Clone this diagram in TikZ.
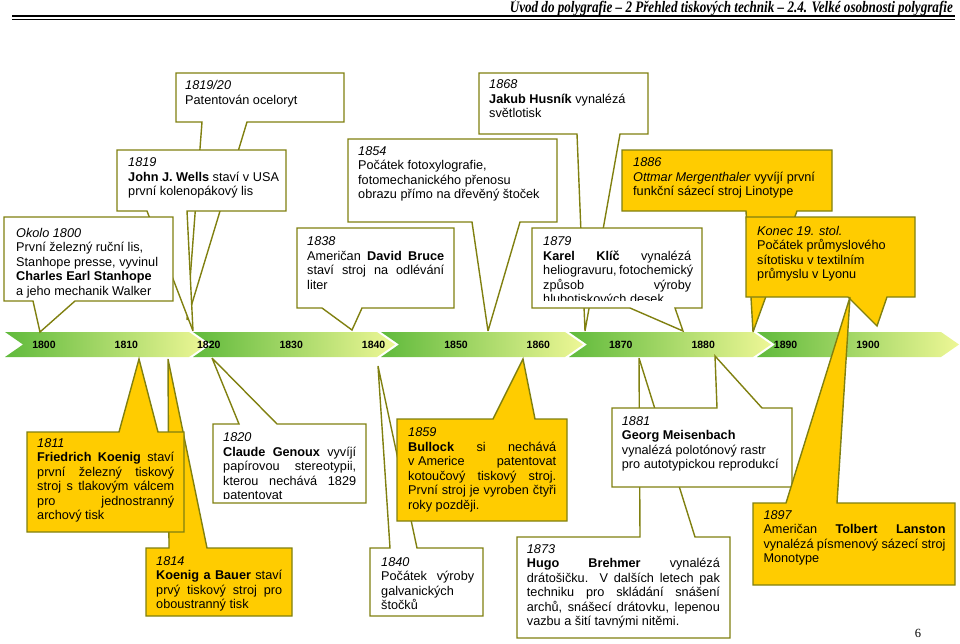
\documentclass[tikz,border=0pt]{standalone}
\usepackage{fontspec}
\usepackage{graphicx}
\setmainfont{Liberation Sans}
\newfontfamily\serifhdr{Liberation Serif}
\definecolor{cbord}{RGB}{128,128,16}
\definecolor{cyel}{RGB}{255,204,0}
\definecolor{tlgreen}{RGB}{96,186,60}
\definecolor{tlpale}{RGB}{238,247,150}
\newcommand\boxfont{\fontsize{12.7}{14.5}\selectfont}
\newcommand\J[1]{\makebox[\linewidth][s]{#1}}
\newcommand\ctext[2]{\parbox[t]{#1}{\boxfont\raggedright #2}}
\newcommand\cbot[8]{\path[#1] (#2,#3) -- (#4,#3) -- (#4,#5) -- (#7,#5) -- (#8) -- (#6,#5) -- (#2,#5) -- cycle;}
\newcommand\ctop[8]{\path[#1] (#2,#3) -- (#6,#3) -- (#8) -- (#7,#3) -- (#4,#3) -- (#4,#5) -- (#2,#5) -- cycle;}
\hyphenpenalty=10000
\tikzset{
  cw/.style={draw=cbord, line width=1.4pt, fill=white, line join=miter, miter limit=4},
  cy/.style={cw, fill=cyel},
  txt/.style={anchor=base west, inner sep=0pt},
  yr/.style={font=\fontsize{10.5}{12}\selectfont\bfseries, inner sep=0pt},
  seg/.style={left color=tlgreen, right color=tlpale}
}
\begin{document}
\begin{tikzpicture}[x=1pt,y=-1pt]
\useasboundingbox (0,0) rectangle (960,643);
% header
\node[anchor=base east, inner sep=0pt] (hdr) at (953,12.5)
  {\resizebox{443pt}{\height}{\serifhdr\bfseries\itshape\fontsize{16}{16}\selectfont Úvod do polygrafie – 2 Přehled tiskových technik – 2.4. Velké osobnosti polygrafie}};
\draw[line width=2.2pt] (12,16.2) -- (955,16.2);
\draw[line width=0.9pt] (12,19.6) -- (955,19.6);
% timeline
\foreach \s in {5,193,381,569,757}
  \shade[seg] (\s,332) -- ++(184,0) -- ++(18,12.5) -- ++(-18,12.5) -- ++(-184,0) -- ++(18,-12.5) -- cycle;
\foreach \y [count=\i from 0] in {1800,1810,1820,1830,1840,1850,1860,1870,1880,1890,1900}
  \node[yr] (y\y) at ({44+82.4*\i},345) {\y};
% top callouts
\cbot{cw}{176}{73}{344}{122}{202}{247}{187,320}
\node[txt] (tA) at (185,89.5) {\ctext{150pt}{\textit{1819/20}\\Patentován oceloryt}};
\cbot{cw}{117}{150}{286}{211}{147}{187}{193,331}
\node[txt] (tB) at (128,166.5) {\ctext{160pt}{\textit{1819}\\\textbf{John J. Wells} staví v USA\\první kolenopákový lis}};
\cbot{cw}{4}{217}{173}{301}{33}{75}{40,332}
\node[txt] (tC) at (16,237) {\ctext{160pt}{\textit{Okolo 1800}\\První železný ruční lis,\\Stanhope presse, vyvinul\\\textbf{Charles Earl Stanhope}\\a jeho mechanik Walker}};
\cbot{cw}{297}{228}{454}{308}{322}{362}{352,330}
\node[txt] (tD) at (307,245.5) {\ctext{137pt}{\textit{1838}\\\J{Američan \textbf{David Bruce}}\\\J{staví stroj na odlévání}\\liter}};
\cbot{cw}{348}{139}{557}{222}{472}{520}{488,331}
\node[txt] (tE) at (358,155) {\ctext{200pt}{\textit{1854}\\Počátek fotoxylografie,\\fotomechanického přenosu\\obrazu přímo na dřevěný štoček}};
\cbot{cw}{479}{73}{648}{134}{577}{620}{585,331}
\node[txt] (tF) at (489,88.5) {\ctext{160pt}{\textit{1868}\\\textbf{Jakub Husník} vynalézá\\světlotisk}};
\cbot{cw}{532}{228}{702}{308}{630}{675}{683,331}
\begin{scope}
\clip (534,230) rectangle (700,300);
\node[txt] (tG) at (543,245.5) {\ctext{148pt}{\textit{1879}\\\J{\textbf{Karel Klíč} vynalézá}\\\J{heliogravuru, fotochemický}\\\J{způsob výroby}\\hlubotiskových desek}};
\end{scope}
\cbot{cy}{622}{150}{832}{211}{746}{797}{753,332}
\node[txt] (tH) at (633,166.5) {\ctext{200pt}{\textit{1886}\\\textit{Ottmar Mergenthaler} vyvíjí první\\funkční sázecí stroj Linotype}};
\cbot{cy}{746}{217}{915}{297}{848}{887}{877,326}
\node[txt] (tI) at (757,235) {\ctext{160pt}{\textit{Konec 19. stol.}\\Počátek průmyslového\\sítotisku v textilním\\průmyslu v Lyonu}};
% bottom callouts
\ctop{cy}{146}{548}{292}{616}{169}{207}{168,359}
\node[txt] (tK) at (156,565) {\ctext{126pt}{\textit{1814}\\\J{\textbf{Koenig a Bauer} staví}\\\J{prvý tiskový stroj pro}\\oboustranný tisk}};
\ctop{cy}{27}{432}{184}{532}{119}{158}{139,359}
\node[txt] (tJ) at (37,447) {\ctext{137pt}{\textit{1811}\\\J{\textbf{Friedrich Koenig} staví}\\\J{první železný tiskový}\\\J{stroj s tlakovým válcem}\\\J{pro jednostranný}\\archový tisk}};
\ctop{cw}{213}{424}{366}{503}{239}{277}{212,358}
\begin{scope}
\clip (215,426) rectangle (364,498);
\node[txt] (tL) at (223,441.7) {\ctext{133pt}{\textit{1820}\\\J{\textbf{Claude Genoux} vyvíjí}\\\J{papírovou stereotypii,}\\\J{kterou nechává 1829}\\patentovat}};
\end{scope}
\ctop{cw}{370}{548}{483}{616}{390}{417}{378,366}
\node[txt] (tM) at (381,566) {\ctext{93pt}{\textit{1840}\\\J{Počátek výroby}\\galvanických\\štočků}};
\ctop{cy}{397}{419}{567}{521}{493}{535}{523,359}
\node[txt] (tN) at (408,436.7) {\ctext{148pt}{\textit{1859}\\\J{\textbf{Bullock} si nechává}\\\J{\mbox{v Americe} patentovat}\\\J{kotoučový tiskový stroj.}\\\J{První stroj je vyroben čtyři}\\roky později.}};
\ctop{cw}{517}{537}{730}{638}{640}{695}{639,358}
\node[txt] (tO) at (526.7,553.3) {\ctext{193pt}{\textit{1873}\\\J{\textbf{Hugo Brehmer} vynalézá}\\\J{drátošičku. V dalších letech pak}\\\J{techniku pro skládání snášení}\\\J{archů, snášecí drátovku, lepenou}\\vazbu a šití tavnými nitěmi.}};
\ctop{cw}{612}{408}{792}{487}{717}{762}{715,356}
\node[txt] (tP) at (621.7,425) {\ctext{170pt}{\textit{1881}\\\textbf{Georg Meisenbach}\\vynalézá polotónový rastr\\pro autotypickou reprodukcí}};
\ctop{cy}{753}{503}{955}{585}{786}{837}{850,297}
\node[txt] (tQ) at (763.3,519.3) {\ctext{182pt}{\textit{1897}\\\J{Američan \textbf{Tolbert Lanston}}\\vynalézá písmenový sázecí stroj\\Monotype}};
% page number
\node[font=\serifhdr\fontsize{12.5}{14}\selectfont, inner sep=0pt] (pg) at (918,633) {6};
\end{tikzpicture}
\end{document}
